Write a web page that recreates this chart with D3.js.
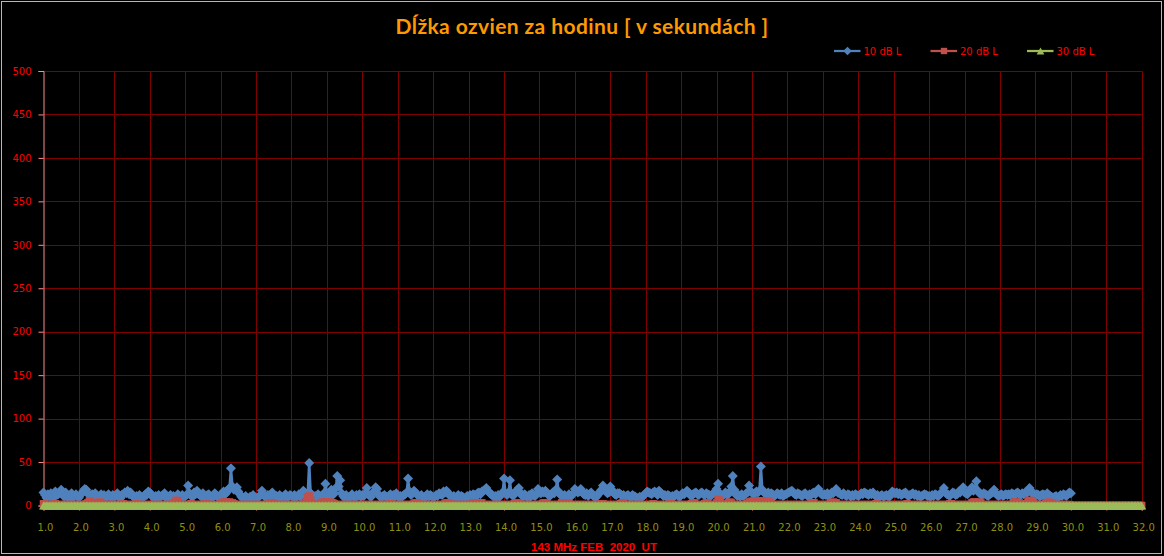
<!DOCTYPE html>
<html>
<head>
<meta charset="utf-8">
<script src="https://d3js.org/d3.v7.min.js"></script>
<style>
	body { margin: 0; background: #000; }
	svg { display: block; }
</style>
</head>
<body>
<div id="chart"></div>
<script>
// hourly echo length in seconds, one row per day (Feb 2020), last row = closing point
var echo10 = [
	[15,12,9,13,11,14,8,10,16,12,13,15,18,14,10,15,11,8,12,14,9,11,13,10],
	[9,12,14,17,19,18,14,12,10,13,11,14,12,9,11,13,10,12,8,10,13,11,9,12],
	[10,11,14,10,8,12,13,15,14,17,13,15,12,10,8,11,9,12,10,8,11,13,12,16],
	[15,13,10,8,11,9,12,10,11,12,14,9,8,10,12,9,11,8,10,13,11,9,12,10],
	[11,12,23,14,11,10,15,13,17,13,12,10,14,11,9,12,13,10,8,11,14,12,10,9],
	[12,14,16,13,15,18,20,43,22,18,19,21,16,13,10,8,9,11,8,7,10,9,12,10],
	[8,9,10,12,17,13,10,9,12,11,13,15,10,8,11,9,12,10,8,11,13,9,10,12],
	[11,10,12,9,11,13,10,12,17,15,13,14,49,14,12,10,11,9,13,11,10,12,14,25],
	[12,10,14,18,12,14,20,34,22,29,14,11,9,12,10,8,11,13,10,9,12,11,13,10],
	[12,11,14,20,13,11,10,14,16,21,19,13,10,9,11,12,10,8,11,13,9,12,10,14],
	[11,9,11,10,12,13,15,31,16,12,14,17,15,13,11,10,12,9,8,11,13,10,12,11],
	[9,10,12,11,14,13,12,16,15,17,15,12,10,9,11,8,10,12,9,11,10,8,9,11],
	[10,12,11,13,12,10,14,15,13,16,17,18,20,17,15,13,12,10,11,9,12,10,13,15],
	[31,14,12,15,29,14,11,13,16,18,20,15,12,10,13,11,9,12,10,14,12,11,13,19],
	[17,14,16,15,17,15,12,11,13,15,14,18,30,16,13,11,10,12,9,11,13,10,12,14],
	[19,17,15,16,19,15,13,12,14,11,13,15,12,10,9,11,13,16,18,23,20,16,14,15],
	[22,18,15,13,12,14,14,13,11,12,10,11,12,10,9,12,11,10,9,8,10,9,11,12],
	[14,16,15,14,13,15,16,15,12,17,15,13,11,12,10,12,11,9,11,10,12,13,11,10],
	[12,14,13,15,17,15,12,11,13,14,15,13,12,14,15,13,12,14,13,12,11,13,14,15],
	[19,25,14,12,11,13,15,12,13,16,22,34,18,13,11,12,10,13,11,12,14,15,23,16],
	[15,13,14,16,15,17,45,18,15,14,13,15,12,14,13,11,12,14,13,12,14,11,12,13],
	[14,15,16,17,15,13,12,14,13,12,11,13,14,12,11,13,12,14,15,13,16,19,15,13],
	[12,13,12,14,11,13,15,14,16,19,15,14,13,12,14,12,11,13,12,10,12,11,13,12],
	[11,12,14,13,15,14,13,12,14,13,15,12,11,12,10,11,12,10,11,12,11,10,12,16],
	[15,14,15,13,14,12,13,14,15,12,11,12,13,14,12,13,11,12,10,11,12,13,12,11],
	[11,10,12,11,13,12,11,12,14,16,20,15,13,12,11,13,15,14,12,13,16,15,18,21],
	[15,14,13,16,18,21,17,19,28,17,14,13,12,14,13,12,11,13,14,15,18,14,12,11],
	[12,13,11,12,13,12,13,12,14,13,12,14,15,13,12,14,13,15,14,16,20,17,14,12],
	[11,13,12,10,12,13,12,11,14,12,11,10,9,10,11,9,10,12,11,13,12,11,13,15],
	[14]
];

var echo20 = [
	[2,1,1,1,1,1,1,1,2,1,1,1,1,1,1,1,1,1,1,1,1,1,1,1],
	[1,1,1,1,1,2,3,5,4,2,1,1,1,2,4,3,1,1,1,1,1,1,1,1],
	[1,1,1,1,1,1,2,1,1,1,1,1,1,1,1,2,1,1,1,1,1,1,1,1],
	[1,1,1,1,1,1,1,1,1,1,1,1,1,1,1,1,2,4,6,5,1,1,1,1],
	[1,1,1,1,2,1,1,1,1,1,1,1,1,1,2,1,1,1,1,1,1,1,1,1],
	[2,3,4,3,4,3,4,3,3,2,1,1,1,1,1,1,1,1,1,1,1,1,1,1],
	[1,1,1,1,1,1,1,1,1,2,3,3,2,1,1,1,1,1,1,1,1,1,1,1],
	[1,1,1,1,1,1,1,1,1,2,4,10,11,6,2,1,1,1,1,1,3,4,3,4],
	[4,3,4,3,3,2,1,1,1,1,1,1,1,1,1,1,1,1,1,1,1,1,1,1],
	[1,1,1,1,1,1,1,1,1,1,1,1,1,1,1,1,1,1,1,2,1,1,1,1],
	[1,1,1,1,1,1,1,1,1,1,1,2,3,3,2,1,1,1,1,1,1,1,1,1],
	[1,1,1,1,1,1,1,1,2,3,3,2,1,1,1,1,1,1,1,1,1,1,1,1],
	[1,1,1,3,3,3,3,3,3,3,1,1,1,1,1,1,1,1,1,1,1,1,1,1],
	[1,1,1,1,1,1,1,2,3,3,2,1,1,1,1,1,1,1,1,1,1,1,1,1],
	[1,1,2,3,3,2,1,1,1,1,1,1,1,1,1,3,3,3,3,3,2,1,1,1],
	[1,1,1,1,1,1,1,1,1,1,1,1,1,1,1,1,1,1,2,2,1,1,1,1],
	[1,1,1,1,1,1,1,2,3,3,1,1,1,1,1,1,1,1,1,1,1,1,1,1],
	[1,1,1,1,1,2,1,1,1,1,1,1,1,1,1,1,1,2,1,1,1,1,1,1],
	[1,1,1,1,1,1,1,2,3,3,1,1,1,1,1,1,2,3,3,1,1,1,1,1],
	[3,7,6,2,1,1,1,1,3,4,3,1,1,1,1,1,1,1,1,1,1,2,4,4],
	[5,5,4,5,5,5,5,4,5,5,4,5,4,2,1,1,1,1,1,1,1,1,1,1],
	[1,1,1,1,1,1,1,1,1,1,1,1,1,1,1,1,3,3,3,1,1,1,1,1],
	[1,1,1,1,1,3,3,4,3,3,1,1,1,1,1,1,1,1,1,1,1,1,1,1],
	[1,1,1,1,1,1,1,1,1,1,1,1,2,1,1,1,1,1,1,1,1,1,1,1],
	[1,1,1,1,1,1,1,1,1,2,1,1,1,1,1,1,1,1,1,1,1,1,1,1],
	[1,1,1,1,1,1,1,1,1,1,1,1,1,1,2,2,1,1,1,1,1,1,1,1],
	[1,1,1,1,1,3,4,4,3,3,4,3,1,1,1,1,1,1,1,1,1,1,1,1],
	[1,1,1,1,1,1,1,1,1,3,4,4,3,3,1,1,1,1,2,5,6,5,5,2],
	[1,1,1,1,1,1,1,3,3,4,3,3,1,1,1,1,1,1,1,1,1,1,1,1],
	[0,0,0,0,0,0,0,0,0,0,0,0,0,0,0,0,0,0,0,0,0,0,0,0],
	[0,0,0,0,0,0,0,0,0,0,0,0,0,0,0,0,0,0,0,0,0,0,0,0],
	[0]
];

var echo30 = [
	[0,0,0,0,0,0,0,0,0,0,0,0,0,0,0,0,0,0,0,0,0,0,0,0],
	[0,0,0,0,0,0,0,0,0,0,0,0,0,0,0,0,0,0,0,0,0,0,0,0],
	[0,0,0,0,0,0,0,0,0,0,0,0,0,0,0,0,0,0,0,0,0,0,0,0],
	[0,0,0,0,0,0,0,0,0,0,0,0,0,0,0,0,0,0,0,0,0,0,0,0],
	[0,0,0,0,0,0,0,0,0,0,0,0,0,0,0,0,0,0,0,0,0,0,0,0],
	[0,0,0,0,0,0,0,0,0,0,0,0,0,0,0,0,0,0,0,0,0,0,0,0],
	[0,0,0,0,0,0,0,0,0,0,0,0,0,0,0,0,0,0,0,0,0,0,0,0],
	[0,0,0,0,0,0,0,0,0,0,0,0,0,0,0,0,0,0,0,0,0,0,0,0],
	[0,0,0,0,0,0,0,0,0,0,0,0,0,0,0,0,0,0,0,0,0,0,0,0],
	[0,0,0,0,0,0,0,0,0,0,0,0,0,0,0,0,0,0,0,0,0,0,0,0],
	[0,0,0,0,0,0,0,0,0,0,0,0,0,0,0,0,0,0,0,0,0,0,0,0],
	[0,0,0,0,0,0,0,0,0,0,0,0,0,0,0,0,0,0,0,0,0,0,0,0],
	[0,0,0,0,0,0,0,0,0,0,0,0,0,0,0,0,0,0,0,0,0,0,0,0],
	[0,0,0,0,0,0,0,0,0,0,0,0,0,0,0,0,0,0,0,0,0,0,0,0],
	[0,0,0,0,0,0,0,0,0,0,0,0,0,0,0,0,0,0,0,0,0,0,0,0],
	[0,0,0,0,0,0,0,0,0,0,0,0,0,0,0,0,0,0,0,0,0,0,0,0],
	[0,0,0,0,0,0,0,0,0,0,0,0,0,0,0,0,0,0,0,0,0,0,0,0],
	[0,0,0,0,0,0,0,0,0,0,0,0,0,0,0,0,0,0,0,0,0,0,0,0],
	[0,0,0,0,0,0,0,0,0,0,0,0,0,0,0,0,0,0,0,0,0,0,0,0],
	[0,0,0,0,0,0,0,0,0,0,0,0,0,0,0,0,0,0,0,0,0,0,0,0],
	[0,0,0,0,0,0,0,0,0,0,0,0,0,0,0,0,0,0,0,0,0,0,0,0],
	[0,0,0,0,0,0,0,0,0,0,0,0,0,0,0,0,0,0,0,0,0,0,0,0],
	[0,0,0,0,0,0,0,0,0,0,0,0,0,0,0,0,0,0,0,0,0,0,0,0],
	[0,0,0,0,0,0,0,0,0,0,0,0,0,0,0,0,0,0,0,0,0,0,0,0],
	[0,0,0,0,0,0,0,0,0,0,0,0,0,0,0,0,0,0,0,0,0,0,0,0],
	[0,0,0,0,0,0,0,0,0,0,0,0,0,0,0,0,0,0,0,0,0,0,0,0],
	[0,0,0,0,0,0,0,0,0,0,0,0,0,0,0,0,0,0,0,0,0,0,0,0],
	[0,0,0,0,0,0,0,0,0,0,0,0,0,0,0,0,0,0,0,0,0,0,0,0],
	[0,0,0,0,0,0,0,0,0,0,0,0,0,0,0,0,0,0,0,0,0,0,0,0],
	[0,0,0,0,0,0,0,0,0,0,0,0,0,0,0,0,0,0,0,0,0,0,0,0],
	[0,0,0,0,0,0,0,0,0,0,0,0,0,0,0,0,0,0,0,0,0,0,0,0],
	[0]
];

var seriesNames = ["10 dB L", "20 dB L", "30 dB L"];
var xTicks = [1,2,3,4,5,6,7,8,9,10,11,12,13,14,15,16,17,18,19,20,21,22,23,24,25,26,27,28,29,30,31,32];
var yTicks = [0,50,100,150,200,250,300,350,400,450,500];

var width = 1164, height = 556;
var margin = { top: 71, right: 22.3, bottom: 50.5, left: 43.5 };

var svg = d3.select("#chart").append("svg")
	.attr("width", width)
	.attr("height", height);

svg.append("rect")
	.attr("x", 1.5).attr("y", 1.5)
	.attr("width", 1160).attr("height", 552)
	.attr("fill", "#000")
	.attr("stroke", "#ff9a9a")
	.attr("stroke-width", 1);

var x = d3.scaleLinear()
	.domain([1, 32])
	.range([margin.left, width - margin.right]);
var y = d3.scaleLinear()
	.domain([0, 500])
	.range([height - margin.bottom, margin.top]);

// grid
svg.append("g").selectAll("line")
	.data(yTicks.slice(1))
	.enter().append("line")
	.attr("x1", x(1)).attr("x2", x(32))
	.attr("y1", function (d) { return Math.round(y(d)) + 0.5; })
	.attr("y2", function (d) { return Math.round(y(d)) + 0.5; })
	.attr("stroke", "#800000");
svg.append("g").selectAll("line")
	.data(xTicks.slice(1))
	.enter().append("line")
	.attr("x1", function (d) { return Math.round(x(d)) + 0.5; })
	.attr("x2", function (d) { return Math.round(x(d)) + 0.5; })
	.attr("y1", y(500)).attr("y2", y(0))
	.attr("stroke", "#800000");

// axes
var yAxis = d3.axisLeft(y).tickValues(yTicks).tickSize(5).tickPadding(7);
var xAxis = d3.axisBottom(x).tickValues(xTicks).tickSize(5).tickPadding(13)
	.tickFormat(d3.format(".1f"));

var gy = svg.append("g")
	.attr("transform", "translate(" + x(1) + ",0)")
	.call(yAxis);
gy.selectAll("path, line").attr("stroke", "#ff8c8c");
gy.selectAll("text")
	.attr("fill", "#ff0000")
	.style("font", "10px 'DejaVu Sans'");

var gx = svg.append("g")
	.attr("transform", "translate(0," + y(0) + ")")
	.call(xAxis);
gx.selectAll("path, line").attr("stroke", "#ff8c8c");
gx.selectAll("text")
	.attr("fill", "#8f8f12")
	.attr("dx", 1.5)
	.style("font", "10px 'DejaVu Sans'");

// series
var markers = {
	diamond: "M0,-5L5,0L0,5L-5,0Z",
	square: "M-3.75,-3.75H3.75V3.75H-3.75Z",
	triangle: "M0,-4L4.5,4H-4.5Z"
};
var series = [
	{ name: seriesNames[0], rows: echo10, color: "#4f81bd", marker: markers.diamond },
	{ name: seriesNames[1], rows: echo20, color: "#c0504d", marker: markers.square },
	{ name: seriesNames[2], rows: echo30, color: "#9bbb59", marker: markers.triangle }
];

var line = d3.line()
	.x(function (d) { return x(d.day); })
	.y(function (d) { return y(d.value); });

series.forEach(function (s) {
	var pts = [].concat.apply([], s.rows).map(function (v, i) {
		return { day: 1 + i / 24, value: v };
	});
	var g = svg.append("g");
	g.append("path")
		.datum(pts)
		.attr("d", line)
		.attr("fill", "none")
		.attr("stroke", s.color)
		.attr("stroke-width", 2.5)
		.attr("stroke-linejoin", "round");
	g.selectAll(".m")
		.data(pts)
		.enter().append("path")
		.attr("class", "m")
		.attr("d", s.marker)
		.attr("transform", function (d) { return "translate(" + x(d.day) + "," + y(d.value) + ")"; })
		.attr("fill", s.color);
});

// legend
var legend = svg.append("g").selectAll("g")
	.data(series)
	.enter().append("g")
	.attr("transform", function (d, i) { return "translate(" + (834 + i * 96.5) + ",51)"; });
legend.append("line")
	.attr("x1", 0).attr("x2", 26.5)
	.attr("stroke", function (d) { return d.color; })
	.attr("stroke-width", 2.25);
legend.append("path")
	.attr("d", function (d) { return d.marker; })
	.attr("transform", "translate(13.5,0) scale(0.85)")
	.attr("fill", function (d) { return d.color; });
legend.append("text")
	.attr("x", 29.5).attr("y", 4)
	.attr("fill", "#ff0000")
	.style("font", "10px 'DejaVu Sans'")
	.text(function (d) { return d.name; });

// titles
svg.append("text")
	.attr("x", 582).attr("y", 33.5)
	.attr("text-anchor", "middle")
	.attr("fill", "#ff9900")
	.style("font", "bold 21px Lato")
	.style("letter-spacing", "0.4px")
	.text("Dĺžka ozvien za hodinu [ v sekundách ]");

svg.append("text")
	.attr("x", 594).attr("y", 551)
	.attr("text-anchor", "middle")
	.attr("fill", "#ff0000")
	.style("font", "bold 11.5px 'Liberation Sans'")
	.text("143 MHz FEB \u00a02020 \u00a0UT");
</script>
</body>
</html>
